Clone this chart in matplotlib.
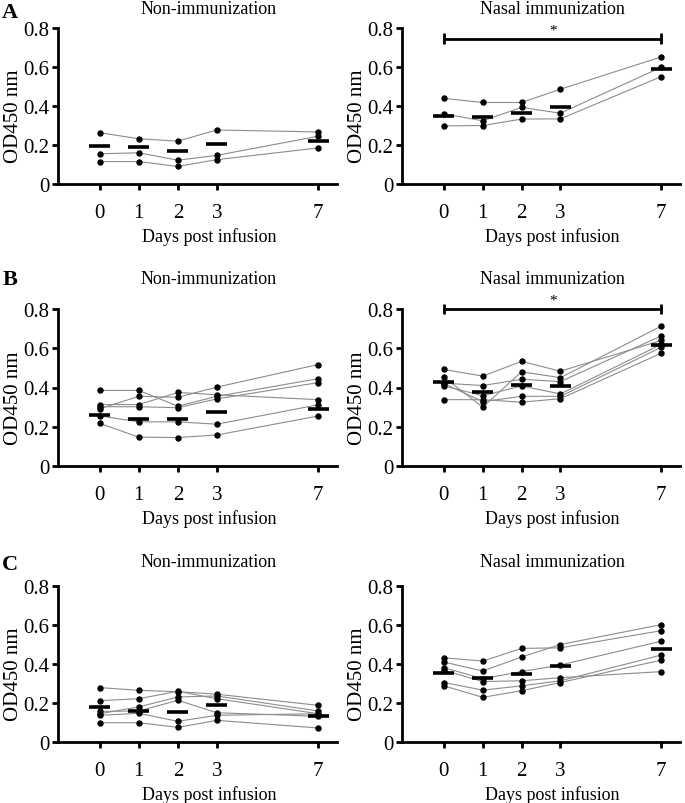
import numpy as np
import matplotlib.pyplot as plt

plt.rcParams['font.family'] = ['Liberation Serif', 'DejaVu Serif']

days = ['0', '1', '2', '3', '7']
day_pos = [0, 1, 2, 3, 5.6]   # day 7 sits after a gap, not to scale
yticks = [0, 0.2, 0.4, 0.6, 0.8]
ytick_labels = ['0', '0.2', '0.4', '0.6', '0.8']

# one row per animal, one value per day
a_non = [[0.263, 0.232, 0.220, 0.277, 0.267],
         [0.155, 0.160, 0.122, 0.147, 0.245],
         [0.115, 0.115, 0.090, 0.125, 0.185]]
a_non_mean = [0.195, 0.190, 0.170, 0.205, 0.223]

a_nasal = [[0.439, 0.418, 0.418, 0.486, 0.652],
           [0.360, 0.324, 0.393, 0.363, 0.599],
           [0.298, 0.300, 0.333, 0.334, 0.551]]
a_nasal_mean = [0.351, 0.344, 0.364, 0.396, 0.592]

b_non = [[0.385, 0.385, 0.305, 0.355, 0.445],
         [0.292, 0.355, 0.350, 0.402, 0.517],
         [0.313, 0.313, 0.375, 0.363, 0.338],
         [0.302, 0.302, 0.297, 0.342, 0.425],
         [0.255, 0.225, 0.225, 0.213, 0.312],
         [0.217, 0.147, 0.145, 0.158, 0.255]]
b_non_mean = [0.262, 0.242, 0.238, 0.275, 0.292]

b_nasal = [[0.492, 0.458, 0.533, 0.483, 0.640],
           [0.452, 0.300, 0.480, 0.450, 0.713],
           [0.422, 0.410, 0.442, 0.430, 0.663],
           [0.408, 0.358, 0.408, 0.367, 0.620],
           [0.420, 0.328, 0.355, 0.355, 0.605],
           [0.338, 0.338, 0.325, 0.343, 0.575]]
b_nasal_mean = [0.427, 0.377, 0.413, 0.408, 0.617]

c_non = [[0.279, 0.265, 0.258, 0.245, 0.188],
         [0.212, 0.222, 0.260, 0.222, 0.145],
         [0.145, 0.180, 0.231, 0.236, 0.159],
         [0.157, 0.159, 0.214, 0.150, 0.132],
         [0.137, 0.147, 0.106, 0.137, 0.145],
         [0.099, 0.099, 0.075, 0.111, 0.072]]
c_non_mean = [0.181, 0.157, 0.154, 0.191, 0.132]

c_nasal = [[0.432, 0.415, 0.480, 0.483, 0.571],
           [0.410, 0.364, 0.436, 0.500, 0.602],
           [0.381, 0.325, 0.361, 0.395, 0.517],
           [0.368, 0.310, 0.314, 0.330, 0.361],
           [0.305, 0.266, 0.288, 0.314, 0.446],
           [0.288, 0.229, 0.263, 0.305, 0.420]]
c_nasal_mean = [0.353, 0.330, 0.351, 0.392, 0.476]

sig_level = {'A': 0.745, 'B': 0.80}


def draw_panel(ax, subjects, means, sig=None):
    for s in subjects:
        ax.plot(day_pos, s, color='#8c8c8c', lw=0.8, marker='o', ms=3.6,
                mfc='black', mec='black', zorder=2)
    pos = np.array(day_pos)
    ax.hlines(means, pos - 0.27, pos + 0.27, color='black', lw=2.6, zorder=3)

    if sig is not None:
        ax.plot([day_pos[0], day_pos[-1]], [sig, sig], color='black', lw=2,
                clip_on=False)
        ax.vlines([day_pos[0], day_pos[-1]], sig - 0.028, sig + 0.028,
                  color='black', lw=2, clip_on=False)
        ax.text((day_pos[0] + day_pos[-1]) / 2, sig + 0.012, '*', ha='center',
                va='bottom', fontsize=11, clip_on=False)

    ax.set_xlim(-1.08, 6.08)
    ax.set_ylim(0, 0.8)
    ax.set_xticks(day_pos)
    ax.set_xticklabels(days)
    ax.set_yticks(yticks)
    ax.set_yticklabels(ytick_labels)
    ax.spines['top'].set_visible(False)
    ax.spines['right'].set_visible(False)
    ax.spines['left'].set_linewidth(2)
    ax.spines['bottom'].set_linewidth(2)
    ax.tick_params(axis='both', direction='out', length=4, width=2,
                   labelsize=15, pad=2)
    ax.tick_params(axis='x', pad=10)
    ax.set_ylabel('OD450 nm', fontsize=15)
    ax.yaxis.set_label_coords(-0.125, 0.44)
    ax.set_xlabel('Days post infusion', fontsize=13)
    ax.xaxis.set_label_coords((2.8 + 1.08) / 7.16, -0.275)


fig = plt.figure(figsize=(6.85, 8.04), dpi=100)

W, H = 685, 804
rows = [('A', 185, 29, 10, 13), ('B', 467, 310, 280, 280), ('C', 743, 587, 563, 565)]
panels = {'A': ((a_non, a_non_mean), (a_nasal, a_nasal_mean)),
          'B': ((b_non, b_non_mean), (b_nasal, b_nasal_mean)),
          'C': ((c_non, c_non_mean), (c_nasal, c_nasal_mean))}

for letter, y0, y8, ty, ly in rows:
    (non, non_m), (nas, nas_m) = panels[letter]
    bottom = 1 - y0 / H
    height = (y0 - y8) / H
    ax1 = fig.add_axes([57.7 / W, bottom, (337 - 57.7) / W, height])
    ax2 = fig.add_axes([402 / W, bottom, (680 - 402) / W, height])
    draw_panel(ax1, non, non_m)
    draw_panel(ax2, nas, nas_m, sig_level.get(letter))
    for ax, title in ((ax1, 'Non-immunization'), (ax2, 'Nasal immunization')):
        xf = fig.transFigure.inverted().transform(ax.transData.transform((2.8, 0)))[0]
        fig.text(xf, 1 - ty / H, title, ha='center', va='center', fontsize=13)
    fig.text(10 / W, 1 - ly / H, letter, fontsize=16, fontweight='bold',
             ha='center', va='center')

fig.savefig('out.png', dpi=100)
